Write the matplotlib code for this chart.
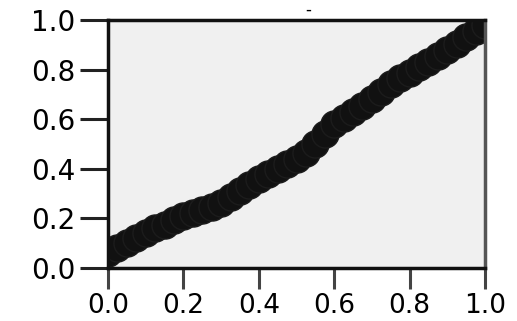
import matplotlib
matplotlib.use('Agg')
import matplotlib.pyplot as plt

x_vals = [0.000, 0.025, 0.050, 0.075, 0.100, 0.125, 0.150, 0.175, 0.200, 0.225,
          0.250, 0.275, 0.300, 0.325, 0.350, 0.375, 0.400, 0.425, 0.450, 0.475,
          0.500, 0.525, 0.550, 0.575, 0.600, 0.625, 0.650, 0.675, 0.700, 0.725,
          0.750, 0.775, 0.800, 0.825, 0.850, 0.875, 0.900, 0.925, 0.950, 0.975,
          1.000]
y_vals = [0.060, 0.082, 0.100, 0.120, 0.140, 0.160, 0.175, 0.195, 0.210, 0.222,
          0.232, 0.245, 0.262, 0.285, 0.310, 0.335, 0.360, 0.380, 0.400, 0.420,
          0.440, 0.465, 0.500, 0.540, 0.580, 0.605, 0.630, 0.655, 0.680, 0.710,
          0.740, 0.765, 0.785, 0.810, 0.830, 0.855, 0.880, 0.905, 0.930, 0.955,
          0.980]
ticks = [0.0, 0.2, 0.4, 0.6, 0.8, 1.0]
tick_labels = ['0.0', '0.2', '0.4', '0.6', '0.8', '1.0']

fig = plt.figure(figsize=(5.17, 3.21), dpi=100)
ax = fig.add_axes([108 / 517, 1 - 268 / 321, 377 / 517, 248 / 321])
ax.set_facecolor('#f0f0f0')

ax.plot(x_vals, y_vals, linestyle='none', marker='o', markersize=19.5,
        markerfacecolor='#111111', markeredgecolor='#1c1c1c', markeredgewidth=1)

ax.set_xlim(0, 1)
ax.set_ylim(0, 1)
ax.set_xticks(ticks)
ax.set_xticklabels(tick_labels)
ax.set_yticks(ticks)
ax.set_yticklabels(tick_labels)

for side in ['top', 'bottom', 'left']:
    ax.spines[side].set_linewidth(2.5)
    ax.spines[side].set_color('#111111')
ax.spines['right'].set_linewidth(2.5)
ax.spines['right'].set_color('#555555')

ax.tick_params(axis='y', length=20, width=2.2, color='#222222', pad=3.5,
               labelsize=20)
ax.tick_params(axis='x', length=15, width=2.2, color='#444444', pad=3,
               labelsize=19)
ax.set_title('-', x=0.53, fontsize=12, pad=4)

fig.savefig('out.png', dpi=100)
